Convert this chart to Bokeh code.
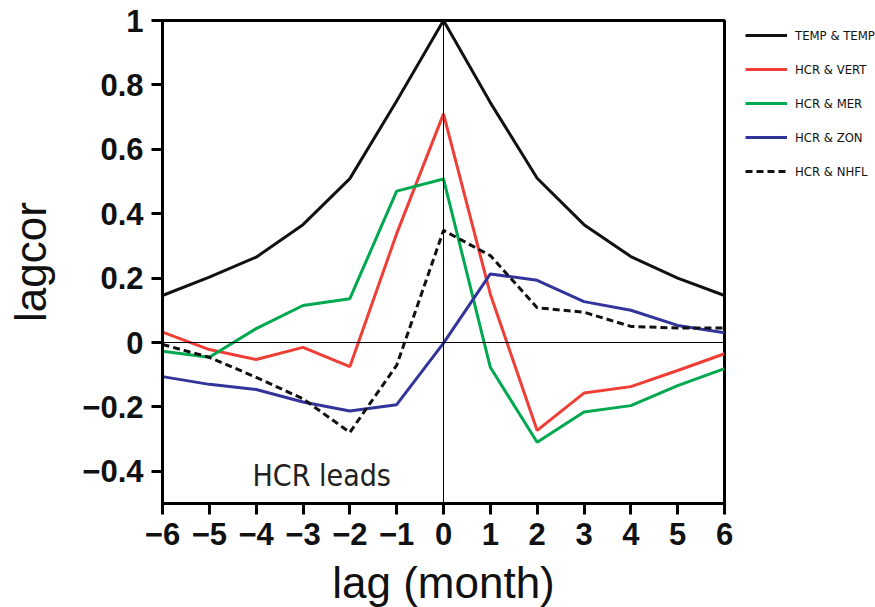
from bokeh.plotting import figure
from bokeh.models import Range1d, Span, Label, Legend, LegendItem, FixedTicker
from bokeh.embed import file_html
from bokeh.resources import INLINE

lags = [-6, -5, -4, -3, -2, -1, 0, 1, 2, 3, 4, 5, 6]
temp_temp = [0.146, 0.203, 0.265, 0.366, 0.509, 0.75, 1.0, 0.745, 0.51, 0.366, 0.267, 0.2, 0.146]
hcr_vert = [0.032, -0.022, -0.053, -0.015, -0.075, 0.338, 0.71, 0.15, -0.273, -0.157, -0.137, -0.087, -0.035]
hcr_mer = [-0.027, -0.046, 0.043, 0.115, 0.136, 0.47, 0.508, -0.077, -0.31, -0.216, -0.196, -0.134, -0.081]
hcr_zon = [-0.106, -0.13, -0.146, -0.185, -0.213, -0.193, -0.002, 0.213, 0.193, 0.127, 0.1, 0.053, 0.03]
hcr_nhfl = [-0.006, -0.046, -0.108, -0.175, -0.279, -0.071, 0.348, 0.27, 0.108, 0.094, 0.05, 0.045, 0.045]

series_names = ["TEMP & TEMP", "HCR & VERT", "HCR & MER", "HCR & ZON", "HCR & NHFL"]

x_ticks = [-6, -5, -4, -3, -2, -1, 0, 1, 2, 3, 4, 5, 6]
x_tick_labels = ["\u22126", "\u22125", "\u22124", "\u22123", "\u22122", "\u22121", "0", "1", "2", "3", "4", "5", "6"]
y_ticks = [-0.4, -0.2, 0, 0.2, 0.4, 0.6, 0.8, 1]
y_tick_labels = ["\u22120.4", "\u22120.2", "0", "0.2", "0.4", "0.6", "0.8", "1"]

TICK_FONT = "Liberation Sans"
NARROW = "Liberation Sans Narrow, DejaVu Sans Condensed, sans-serif"

p = figure(frame_width=562, frame_height=483, output_backend="svg", toolbar_location=None,
           x_range=Range1d(-6, 6), y_range=Range1d(-0.5, 1),
           min_border_left=162, min_border_right=150, min_border_top=20, min_border_bottom=96)

p.xgrid.visible = False
p.ygrid.visible = False
p.outline_line_color = "black"
p.outline_line_width = 3
p.background_fill_color = "white"
p.border_fill_color = "white"

p.xaxis.ticker = FixedTicker(ticks=x_ticks)
p.xaxis.major_label_overrides = {t: l for t, l in zip(x_ticks, x_tick_labels)}
p.yaxis.ticker = FixedTicker(ticks=y_ticks)
p.yaxis.major_label_overrides = {t: l for t, l in zip(y_ticks, y_tick_labels)}

for ax in (p.xaxis[0], p.yaxis[0]):
    ax.axis_line_width = 3
    ax.axis_line_color = "black"
    ax.major_tick_line_width = 3
    ax.major_tick_line_color = "black"
    ax.major_tick_in = 0
    ax.major_tick_out = 11
    ax.minor_tick_line_color = None
    ax.major_label_text_font = TICK_FONT
    ax.major_label_text_font_style = "bold"
    ax.major_label_text_font_size = "31px"
    ax.major_label_text_color = "#111111"
    ax.axis_label_text_font = TICK_FONT
    ax.axis_label_text_font_style = "normal"
    ax.axis_label_text_font_size = "44px"
    ax.axis_label_text_color = "#111111"

p.xaxis.axis_label = "lag (month)"
p.yaxis.axis_label = "lagcor"
p.xaxis.major_label_standoff = 8
p.yaxis.major_label_standoff = 8
p.xaxis.axis_label_standoff = 10
p.yaxis.axis_label_standoff = 24

p.add_layout(Span(location=0, dimension="width", line_color="black", line_width=1))
p.add_layout(Span(location=0, dimension="height", line_color="black", line_width=1))

r1 = p.line(lags, temp_temp, line_color="#111111", line_width=3)
r2 = p.line(lags, hcr_vert, line_color="#ee3e36", line_width=3)
r3 = p.line(lags, hcr_mer, line_color="#00a84f", line_width=3)
r4 = p.line(lags, hcr_zon, line_color="#33349a", line_width=3)
r5 = p.line(lags, hcr_nhfl, line_color="#111111", line_width=3, line_dash="7 4")

p.add_layout(Label(x=-2.6, y=-0.412, text="HCR leads", text_align="center",
                   text_baseline="alphabetic", text_font=NARROW,
                   text_font_size="30px", text_color="#222222"))

legend = Legend(items=[LegendItem(label=n, renderers=[r]) for n, r in
                       zip(series_names, [r1, r2, r3, r4, r5])],
                location=(16, 317), glyph_width=42, glyph_height=20,
                label_height=20, spacing=14, label_standoff=8,
                padding=5, margin=0, border_line_alpha=0, background_fill_alpha=0,
                label_text_font=NARROW, label_text_font_size="13px",
                label_text_color="#111111")
p.add_layout(legend, "right")

open("out.html", "w").write(file_html(p, INLINE))
